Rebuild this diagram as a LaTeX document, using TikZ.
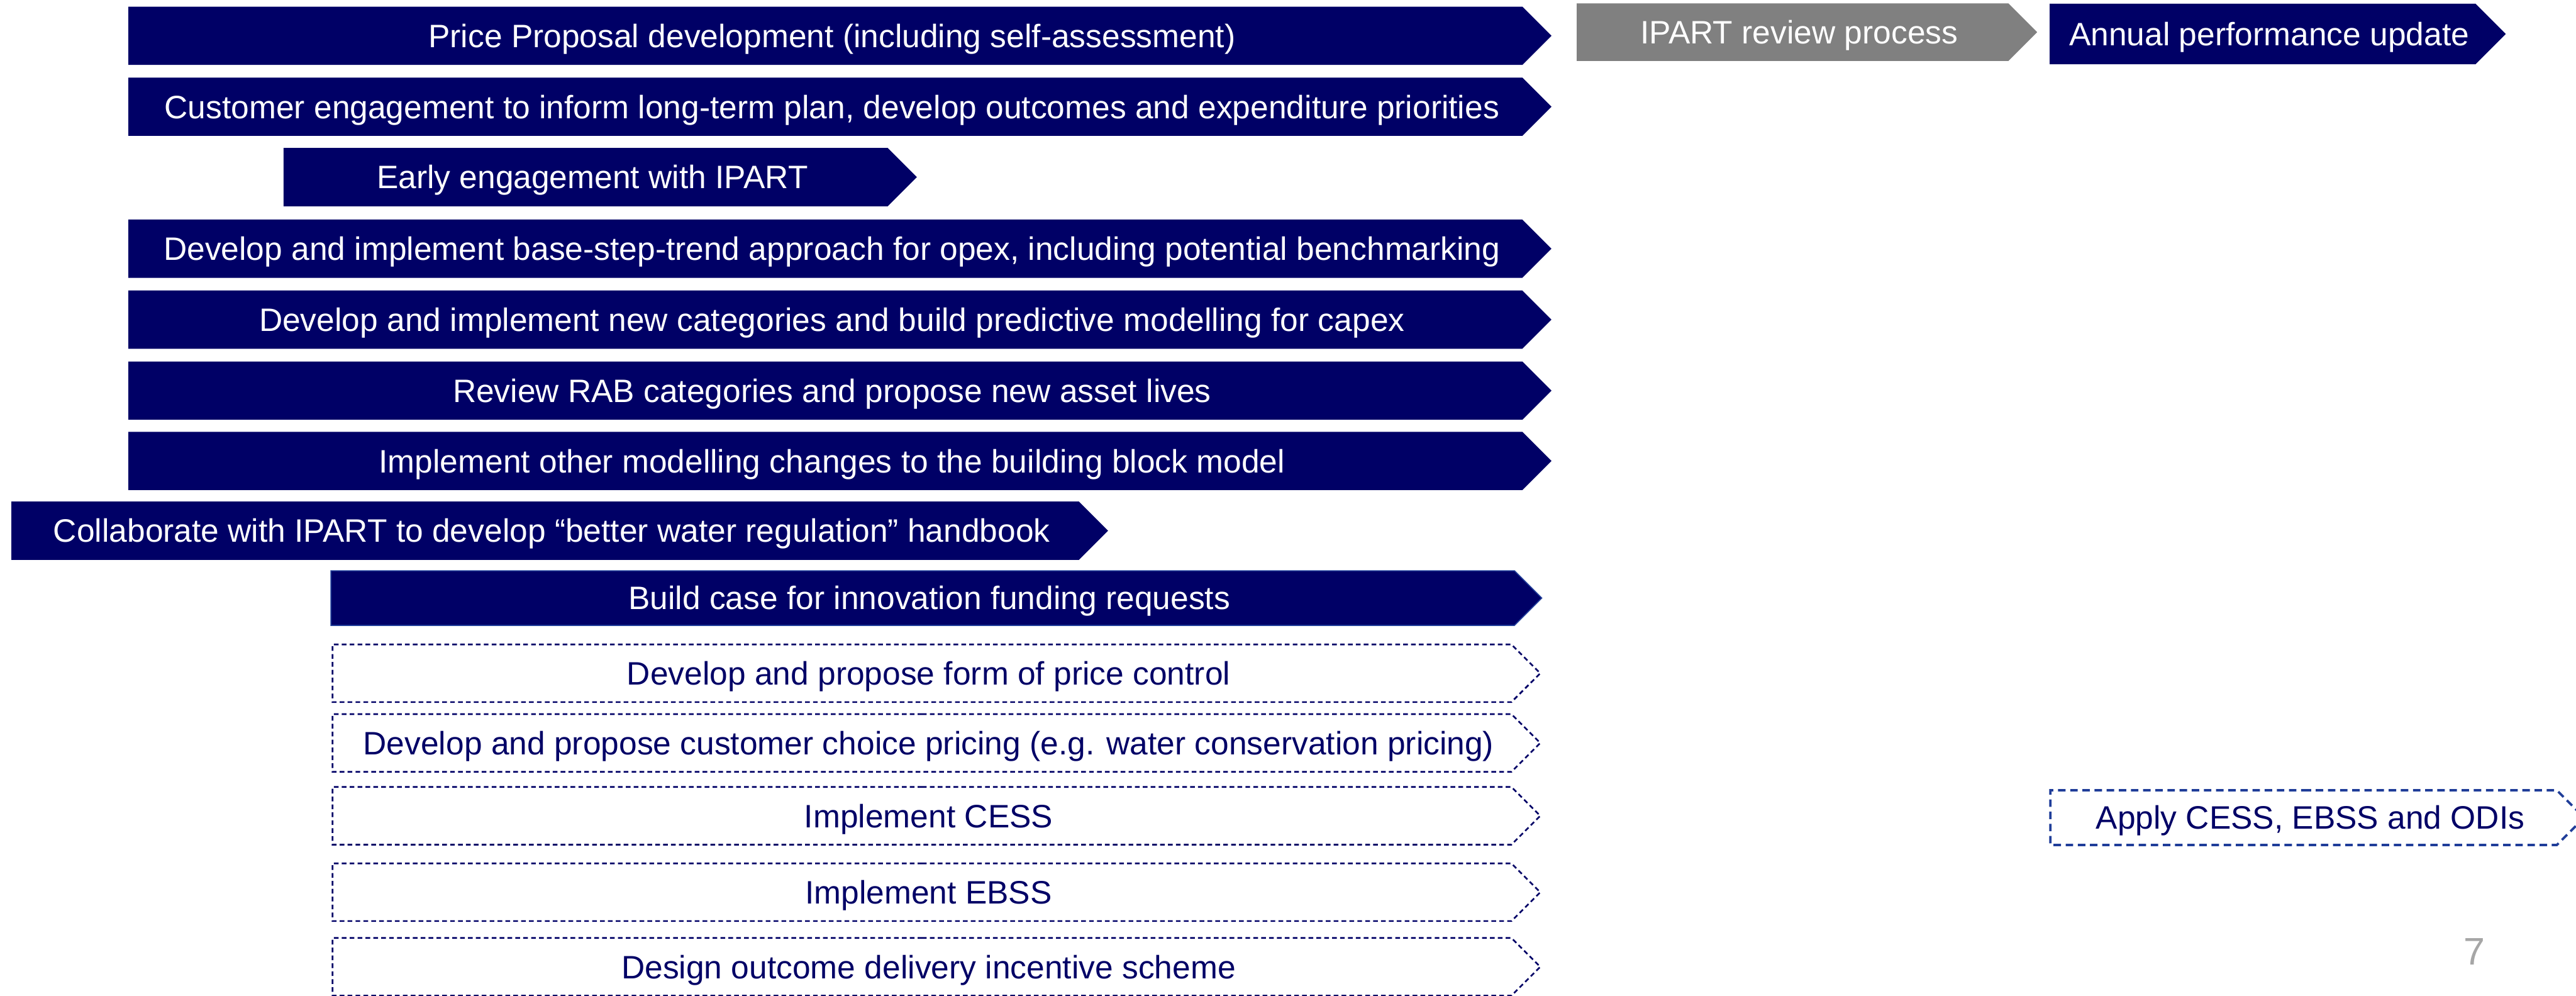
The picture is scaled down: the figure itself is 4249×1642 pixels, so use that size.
\documentclass[tikz,border=0pt]{standalone}
\usepackage{fontspec}
\setmainfont{Liberation Sans}
\usetikzlibrary{shapes.symbols}

\definecolor{navy}{RGB}{0,0,102}
\definecolor{reviewgrey}{RGB}{128,128,128}
\definecolor{optblue}{RGB}{31,61,153}
\definecolor{pagegrey}{RGB}{166,166,166}

\begin{document}
\begin{tikzpicture}[
  x=0.01cm, y=-0.01cm,
  font=\fontsize{15.2}{18}\selectfont,
  stage/.style={signal, signal to=east, signal from=nowhere, signal pointer angle=90,
    anchor=west, inner sep=0pt, text height=14.7pt, text depth=3.8pt, minimum height=9.6mm,
    execute at begin node={\hspace*{2.2mm}}},
  task/.style={stage, fill=navy, text=white},
  review/.style={stage, fill=reviewgrey, text=white},
  option/.style={stage, draw=navy, text=navy, line width=0.8pt,
    dash pattern=on 2.2pt off 1.5pt, minimum height=9.5mm}
]
\useasboundingbox (0,0) rectangle (4249,1642);

% price proposal workstreams
\node[task, minimum width=23.46cm] (proposal) at (211,59) {Price Proposal development (including self-assessment)};
\node[task, minimum width=23.46cm] (custeng) at (211,176) {Customer engagement to inform long-term plan, develop outcomes and expenditure priorities};
\node[task, minimum width=10.44cm] (early) at (467,292) {Early engagement with IPART};
\node[task, minimum width=23.46cm] (opex) at (211,410) {Develop and implement base-step-trend approach for opex, including potential benchmarking};
\node[task, minimum width=23.46cm] (capex) at (211,527) {Develop and implement new categories and build predictive modelling for capex};
\node[task, minimum width=23.46cm] (rab) at (211,644) {Review RAB categories and propose new asset lives};
\node[task, minimum width=23.46cm] (bbm) at (211,760) {Implement other modelling changes to the building block model};
\node[task, minimum width=18.08cm] (handbook) at (18,875) {Collaborate with IPART to develop “better water regulation” handbook};
\node[task, minimum width=19.96cm, minimum height=9mm, draw=optblue, line width=0.5pt] (innov) at (545,986) {Build case for innovation funding requests};

% optional elements
\node[option, minimum width=19.91cm] (control) at (547,1110) {Develop and propose form of price control};
\node[option, minimum width=19.91cm] (choice) at (547,1225) {Develop and propose customer choice pricing (e.g. water conservation pricing)};
\node[option, minimum width=19.91cm] (cess) at (547,1345) {Implement CESS};
\node[option, minimum width=19.91cm] (ebss) at (547,1471) {Implement EBSS};
\node[option, minimum width=19.91cm] (odi) at (547,1594) {Design outcome delivery incentive scheme};

% after submission
\node[review, minimum width=7.59cm, minimum height=9.5mm] (review) at (2600,53) {IPART review process};
\node[task, minimum width=7.52cm, minimum height=10mm] (annual) at (3380,56) {Annual performance update};
\node[option, draw=optblue, line width=1.1pt, dash pattern=on 3.5pt off 2.2pt,
  minimum width=8.8cm, minimum height=9mm] (apply) at (3380,1348) {Apply CESS, EBSS and ODIs};

\node[text=pagegrey, font=\fontsize{18}{20}\selectfont] (pagenum) at (4081,1569) {7};
\end{tikzpicture}
\end{document}
